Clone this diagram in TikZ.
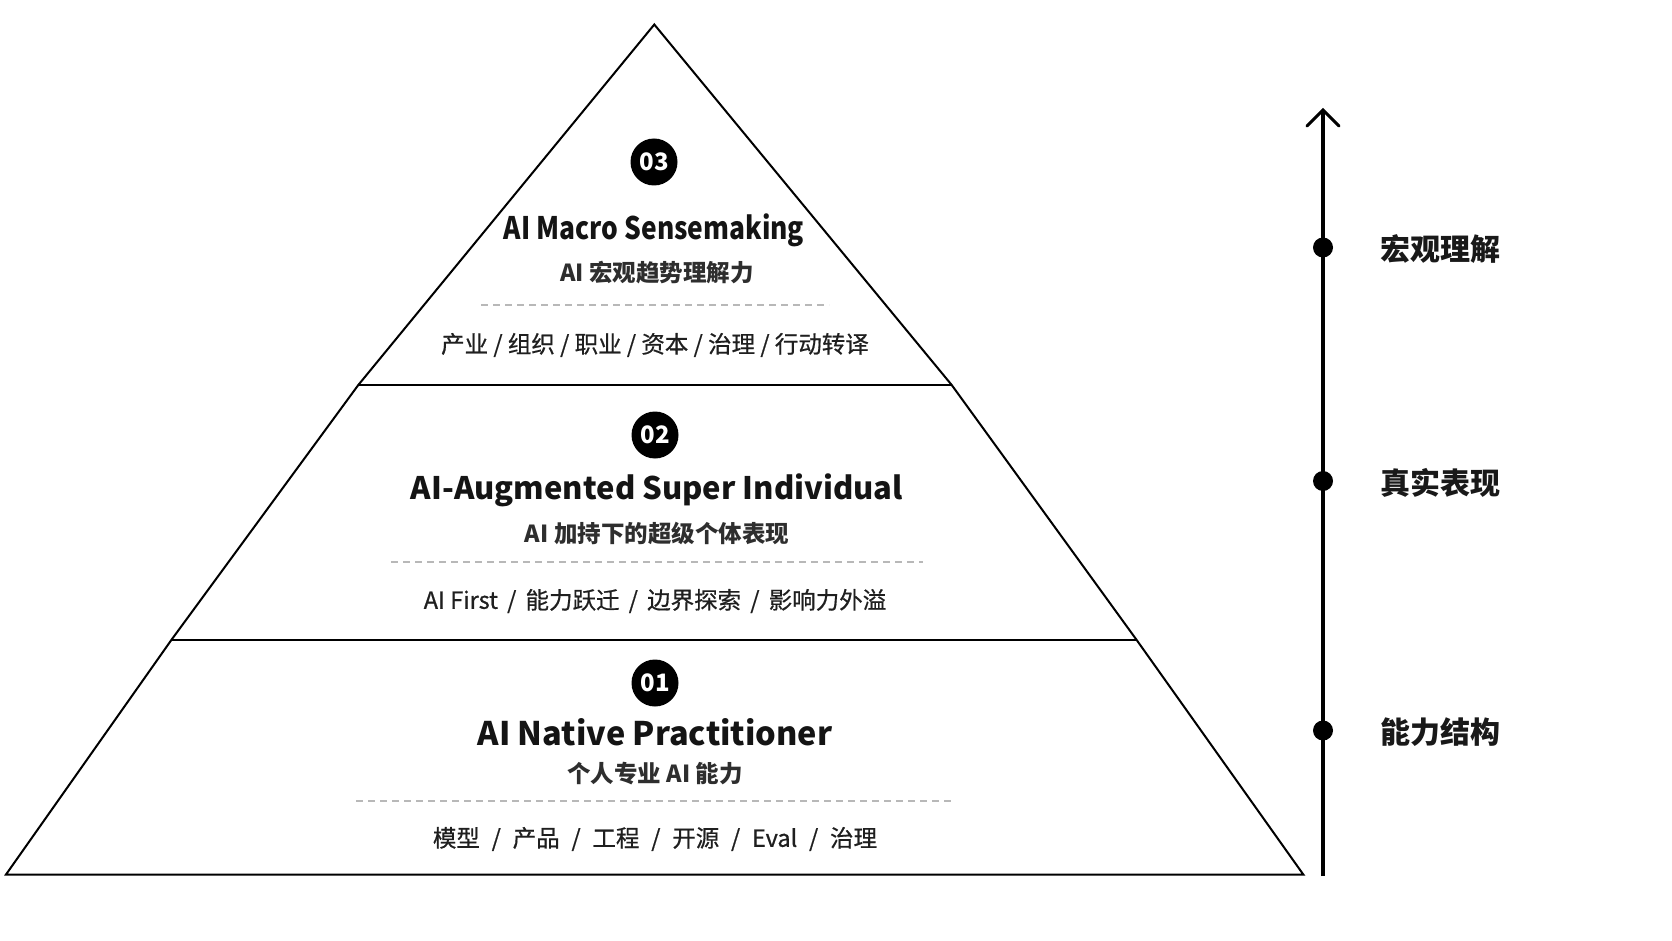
\documentclass[tikz,border=0pt]{standalone}
\usepackage{fontspec}
\setmainfont{Noto Sans CJK SC}
\usetikzlibrary{arrows.meta}
\begin{document}
\begin{tikzpicture}[x=1pt,y=-1pt,
  outline/.style={line width=2pt, line join=miter, black},
  divider/.style={line width=2pt, black},
  dashsep/.style={line width=1.3pt, black!28, dash pattern=on 7pt off 5pt},
  badge/.style={circle, fill=black, minimum size=47pt, inner sep=0pt, text=white, font=\fontsize{24}{27}\selectfont\bfseries},
  ttl/.style={text=black!92, font=\fontsize{31}{36}\selectfont\bfseries, inner sep=0pt},
  sub/.style={text=black!82, font=\fontsize{23.5}{27}\selectfont\bfseries, inner sep=0pt},
  items/.style={text=black!88, font=\fontsize{23.5}{27}\selectfont\addfontfeature{FakeBold=0.6}, inner sep=0pt},
  dot/.style={circle, fill=black, minimum size=20pt, inner sep=0pt},
  axlabel/.style={text=black!90, font=\fontsize{30}{33}\selectfont\bfseries, inner sep=0pt, anchor=west}
]
\useasboundingbox (0,0) rectangle (1672,941);
\fill[white] (0,0) rectangle (1672,941);

% pyramid outline
\coordinate (apex) at (654.3,24.5);
\coordinate (l1) at (358.3,385);
\coordinate (r1) at (951.7,385);
\coordinate (l2) at (171.7,639.5);
\coordinate (r2) at (1136.3,639.5);
\coordinate (bl) at (6,874.5);
\coordinate (br) at (1303.3,874.5);
\draw[outline] (bl) -- (l2) -- (l1) -- (apex) -- (r1) -- (r2) -- (br) -- cycle;
\draw[divider] (l1) -- (r1);
\draw[divider] (l2) -- (r2);

% tier 3
\node[badge] (b3) at (654,162) {03};
\node[ttl, xscale=0.85] (t3) at (654,230) {AI Macro Sensemaking};
\node[sub] (s3) at (657,273) {AI 宏观趋势理解力};
\coordinate (d3a) at (481,305); \coordinate (d3b) at (829,305);
\draw[dashsep] (d3a) -- (d3b);
\node[items] (i3) at (655,345) {产业 / 组织 / 职业 / 资本 / 治理 / 行动转译};

% tier 2
\node[badge] (b2) at (655,435) {02};
\node[ttl] (t2) at (657,490) {AI-Augmented Super Individual};
\node[sub] (s2) at (657,533) {AI 加持下的超级个体表现};
\coordinate (d2a) at (391,562); \coordinate (d2b) at (923,562);
\draw[dashsep] (d2a) -- (d2b);
\node[items] (i2) at (655,601) {AI First \,/\, 能力跃迁 \,/\, 边界探索 \,/\, 影响力外溢};

% tier 1
\node[badge] (b1) at (655,683) {01};
\node[ttl, font=\fontsize{32.5}{37}\selectfont\bfseries] (t1) at (655,732) {AI Native Practitioner};
\node[sub] (s1) at (655,774) {个人专业 AI 能力};
\coordinate (d1a) at (356,801); \coordinate (d1b) at (953,801);
\draw[dashsep] (d1a) -- (d1b);
\node[items] (i1) at (655,839) {模型 \;/\; 产品 \;/\; 工程 \;/\; 开源 \;/\; Eval \;/\; 治理};

% axis
\coordinate (axbot) at (1323,876);
\coordinate (axtop) at (1323,110);
\coordinate (wl) at (1307,126);
\coordinate (wr) at (1339,126);
\draw[line width=3.6pt] (axbot) -- (axtop);
\draw[line width=3pt, line cap=round, line join=miter] (wl) -- (axtop) -- (wr);
\node[dot] (p3) at (1323,247.5) {};
\node[dot] (p2) at (1323,481) {};
\node[dot] (p1) at (1323,730.5) {};
\node[axlabel] (a3) at (1380,249) {宏观理解};
\node[axlabel] (a2) at (1380,482.5) {真实表现};
\node[axlabel] (a1) at (1380,732) {能力结构};
\end{tikzpicture}
\end{document}
